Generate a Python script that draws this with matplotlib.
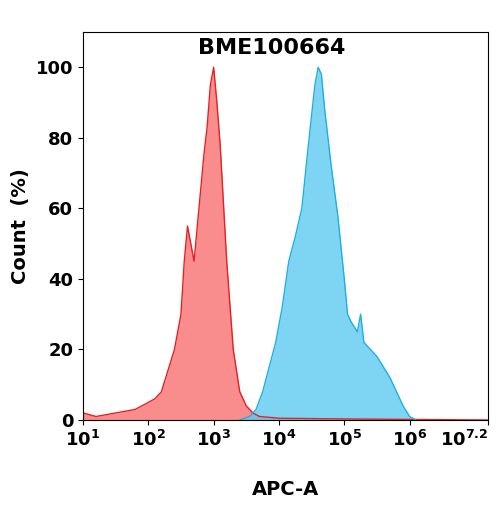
import matplotlib
matplotlib.use("Agg")
import matplotlib.pyplot as plt

red_x = [1.0,1.2,1.5,1.8,2.0,2.1,2.2,2.3,2.4,2.5,2.55,2.6,2.65,2.7,2.75,2.8,2.85,2.9,2.95,3.0,3.05,3.1,3.2,3.3,3.4,3.5,3.6,3.7,4.0,5.0,7.2]
red_y = [2,1,2,3,5,6,8,14,20,30,45,55,50,45,55,65,75,83,95,100,90,78,45,20,8,4,2,1,0.5,0.3,0]
blue_x = [3.4,3.55,3.65,3.75,3.85,3.95,4.05,4.15,4.25,4.35,4.45,4.55,4.6,4.65,4.7,4.8,4.9,5.0,5.05,5.1,5.2,5.25,5.3,5.4,5.5,5.6,5.7,5.8,5.9,6.0,6.1]
blue_y = [0,1,3,8,15,22,32,45,52,60,78,95,100,98,88,72,58,40,30,28,25,30,22,20,18,15,12,8,4,1,0]
tick_pos = [1,2,3,4,5,6,7.2]
tick_lab = ['$\\mathbf{10^{1}}$','$\\mathbf{10^{2}}$','$\\mathbf{10^{3}}$','$\\mathbf{10^{4}}$','$\\mathbf{10^{5}}$','$\\mathbf{10^{6}}$','$\\mathbf{10^{7.2}}$']

fig = plt.figure(figsize=(5.02,5.05), dpi=100)
ax = fig.add_axes([83/502, 1-420/505, 405/502, 388/505])
ax.fill_between(red_x, red_y, color='#f87878', alpha=0.85, lw=0)
ax.plot(red_x, red_y, color='#e82020', lw=1)
ax.fill_between(blue_x, blue_y, color='#5ccbf0', alpha=0.8, lw=0)
ax.plot(blue_x, blue_y, color='#20b0e0', lw=1)
ax.set_xlim(1,7.2); ax.set_ylim(0,110)
ax.set_xticks(tick_pos); ax.set_xticklabels(tick_lab, fontsize=13)
ax.get_xticklabels()[-1].set_horizontalalignment('right')
ax.set_yticks([0,20,40,60,80,100])
for l in ax.get_yticklabels(): l.set_fontweight('bold'); l.set_fontsize(13)
ax.set_xlabel('APC-A', fontsize=14, fontweight='bold', labelpad=22)
ax.set_ylabel('Count  (%)', fontsize=14, fontweight='bold', labelpad=4)
ax.text(0.465, 0.985, 'BME100664', transform=ax.transAxes, ha='center', va='top', fontsize=16, fontweight='bold')
fig.savefig('out.png', dpi=100)
